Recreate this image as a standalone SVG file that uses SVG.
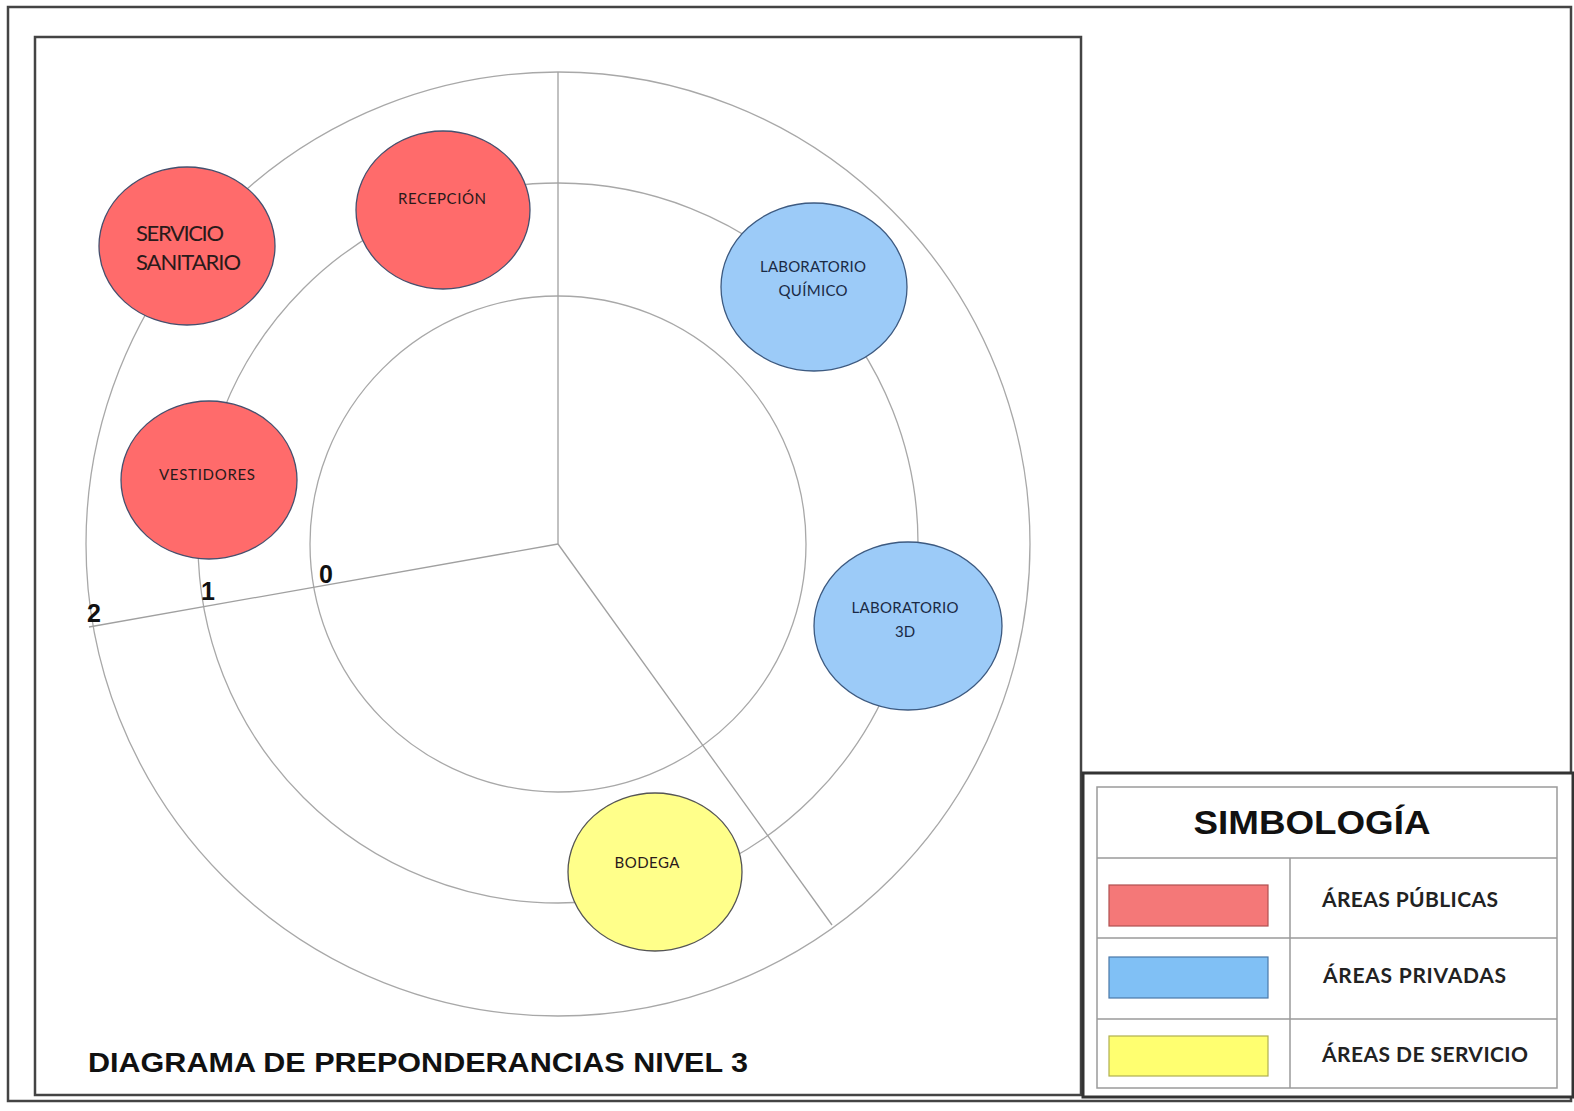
<svg xmlns="http://www.w3.org/2000/svg" width="1574" height="1111" viewBox="0 0 1574 1111">
<style>
.ring{fill:none;stroke:#a8a8a8;stroke-width:1.3}
.ray{stroke:#a0a0a0;stroke-width:1.3}
.pub{fill:#FF6B6B;stroke:#45506e;stroke-width:1.3}
.pri{fill:#9CCBF8;stroke:#3d5a80;stroke-width:1.3}
.ser{fill:#FFFF8A;stroke:#555;stroke-width:1.3}
.lbl{font-family:Lato,"Liberation Sans",sans-serif;fill:#2a1a1a;text-anchor:middle}
.lblb{font-family:Lato,"Liberation Sans",sans-serif;fill:#1a2a45;text-anchor:middle}
.num{font-family:"Liberation Sans",Arial,sans-serif;font-weight:bold;font-size:25px;fill:#111}
.leg{font-family:Lato,"Liberation Sans",sans-serif;font-weight:bold;font-size:21px;fill:#222}
.cell{fill:none;stroke:#9a9a9a;stroke-width:1.5}
</style>
<rect x="0" y="0" width="1574" height="1111" fill="#fff"/>
<g id="frames">
<rect x="8" y="7" width="1563" height="1094" fill="none" stroke="#444" stroke-width="2.5"/>
<rect x="35" y="37" width="1046" height="1058" fill="none" stroke="#444" stroke-width="2.5"/>
</g>
<g id="connectors">
<circle class="ring" cx="558" cy="544" r="472"/>
<circle class="ring" cx="558" cy="543" r="360"/>
<circle class="ring" cx="558" cy="544" r="248"/>
<line class="ray" x1="558" y1="544" x2="558" y2="72"/>
<line class="ray" x1="558" y1="544" x2="89" y2="627"/>
<line class="ray" x1="558" y1="544" x2="832" y2="925"/>
</g>
<g id="ring-labels">
<text class="num" x="319" y="583">0</text>
<text class="num" x="201" y="600">1</text>
<text class="num" x="87" y="622">2</text>
</g>
<g id="servicio-sanitario">
<ellipse class="pub" cx="187" cy="246" rx="88" ry="79"/>
<text class="lbl" x="136" y="241" font-size="22" style="text-anchor:start" textLength="88">SERVICIO</text>
<text class="lbl" x="136" y="270" font-size="22" style="text-anchor:start" textLength="105">SANITARIO</text>
</g>
<g id="recepcion">
<ellipse class="pub" cx="443" cy="210" rx="87" ry="79"/>
<text class="lbl" x="442" y="204" font-size="15" textLength="88">RECEPCIÓN</text>
</g>
<g id="vestidores">
<ellipse class="pub" cx="209" cy="480" rx="88" ry="79"/>
<text class="lbl" x="207" y="480" font-size="15" textLength="96">VESTIDORES</text>
</g>
<g id="lab-quimico">
<ellipse class="pri" cx="814" cy="287" rx="93" ry="84"/>
<text class="lblb" x="813" y="272" font-size="15" textLength="106">LABORATORIO</text>
<text class="lblb" x="813" y="296" font-size="15" textLength="69">QUÍMICO</text>
</g>
<g id="lab-3d">
<ellipse class="pri" cx="908" cy="626" rx="94" ry="84"/>
<text class="lblb" x="905" y="613" font-size="15" textLength="107">LABORATORIO</text>
<text class="lblb" x="905" y="637" font-size="15">3D</text>
</g>
<g id="bodega">
<ellipse class="ser" cx="655" cy="872" rx="87" ry="79"/>
<text class="lbl" x="647" y="868" font-size="15" textLength="65">BODEGA</text>
</g>
<g id="title">
<text x="88" y="1072" font-family="'Liberation Sans',Arial,sans-serif" font-weight="bold" font-size="27" fill="#111" textLength="660" lengthAdjust="spacingAndGlyphs">DIAGRAMA DE PREPONDERANCIAS NIVEL 3</text>
</g>
<g id="legend">
<rect x="1083" y="773" width="490" height="324" fill="#fff" stroke="#333" stroke-width="3"/>
<rect x="1097" y="787" width="460" height="301" class="cell"/>
<line x1="1097" y1="858" x2="1557" y2="858" class="cell"/>
<line x1="1097" y1="938" x2="1557" y2="938" class="cell"/>
<line x1="1097" y1="1019" x2="1557" y2="1019" class="cell"/>
<line x1="1290" y1="858" x2="1290" y2="1088" class="cell"/>
<text x="1312" y="834" font-family="'Liberation Sans',Arial,sans-serif" font-weight="bold" font-size="34" fill="#111" text-anchor="middle" textLength="237" lengthAdjust="spacingAndGlyphs">SIMBOLOGÍA</text>
<rect x="1109" y="885" width="159" height="41" fill="#F47878" stroke="#b05050" stroke-width="1.2"/>
<rect x="1109" y="957" width="159" height="41" fill="#80C0F5" stroke="#4a78a8" stroke-width="1.2"/>
<rect x="1109" y="1036" width="159" height="40" fill="#FFFF70" stroke="#b0b050" stroke-width="1.2"/>
<text class="leg" x="1322" y="907" textLength="176">ÁREAS PÚBLICAS</text>
<text class="leg" x="1323" y="983" textLength="183">ÁREAS PRIVADAS</text>
<text class="leg" x="1322" y="1062" textLength="206">ÁREAS DE SERVICIO</text>
</g>
</svg>
